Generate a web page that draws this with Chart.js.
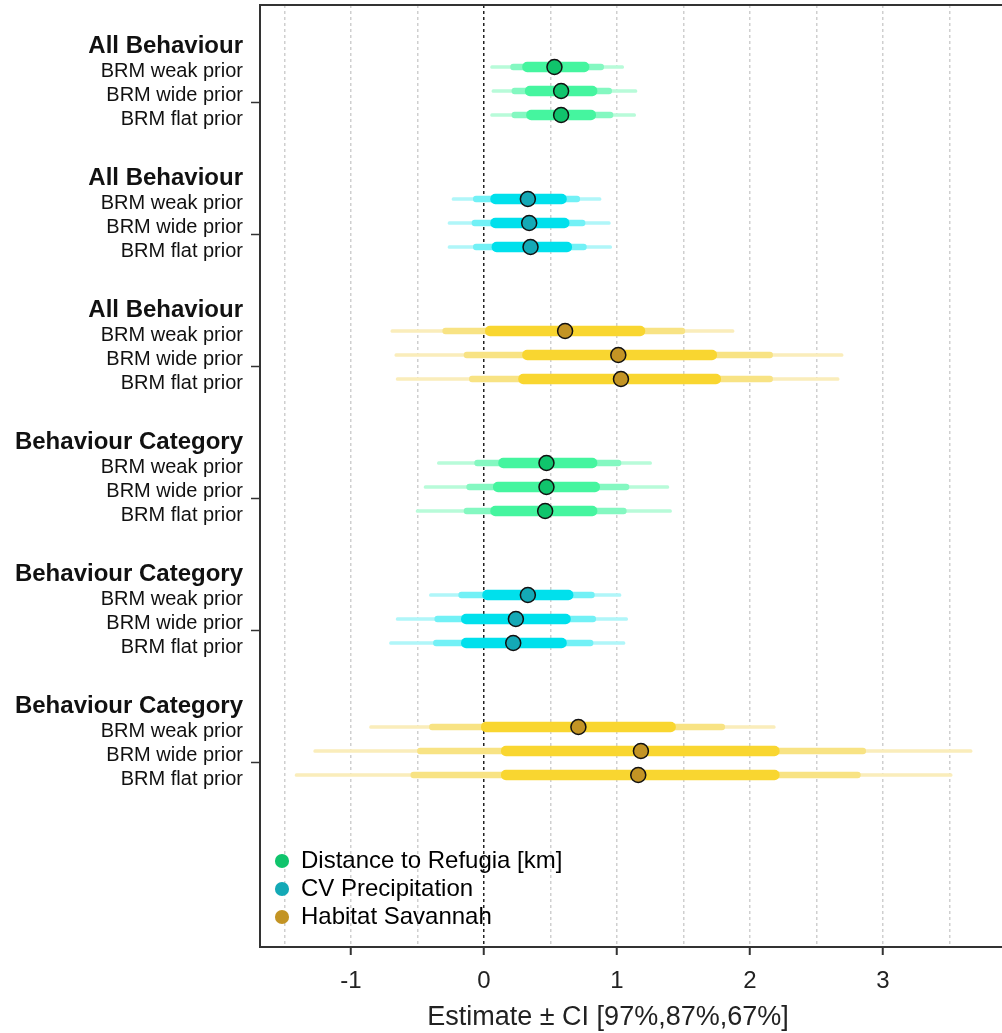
<!DOCTYPE html>
<html>
<head>
<meta charset="utf-8">
<script src="https://cdn.jsdelivr.net/npm/chart.js@4.4.1/dist/chart.umd.min.js"></script>
<style>
  html, body { margin: 0; padding: 0; background: #fff; }
  #wrap { width: 1002px; height: 1033px; }
</style>
</head>
<body>
<div id="wrap"><canvas id="forest" width="1002" height="1033"></canvas></div>
<script>
// groups (top to bottom) and the three prior rows inside each group
const GROUP_TITLES = ["All Behaviour", "All Behaviour", "All Behaviour",
  "Behaviour Category", "Behaviour Category", "Behaviour Category"];
const GROUP_PREDICTOR = [0, 1, 2, 0, 1, 2];
const PRIOR_LABELS = ["BRM weak prior", "BRM wide prior", "BRM flat prior"];
const PREDICTORS = ["Distance to Refugia [km]", "CV Precipitation", "Habitat Savannah"];
const X_TITLE = "Estimate ± CI [97%,87%,67%]";

// one value per row, group by group (weak, wide, flat)
const ESTIMATE = [0.53, 0.58, 0.58, 0.33, 0.34, 0.35, 0.61, 1.01, 1.03,
  0.47, 0.47, 0.46, 0.33, 0.24, 0.22, 0.71, 1.18, 1.16];
const LO_97 = [0.05, 0.06, 0.05, -0.24, -0.27, -0.27, -0.70, -0.67, -0.66,
  -0.35, -0.45, -0.51, -0.41, -0.66, -0.71, -0.86, -1.28, -1.42];
const HI_97 = [1.05, 1.15, 1.14, 0.88, 0.95, 0.96, 1.88, 2.70, 2.67,
  1.26, 1.39, 1.41, 1.03, 1.08, 1.06, 2.19, 3.67, 3.52];
const LO_87 = [0.20, 0.21, 0.21, -0.08, -0.09, -0.08, -0.31, -0.15, -0.11,
  -0.07, -0.13, -0.15, -0.19, -0.37, -0.38, -0.41, -0.50, -0.55];
const HI_87 = [0.90, 0.96, 0.97, 0.72, 0.76, 0.77, 1.51, 2.17, 2.17,
  1.03, 1.09, 1.07, 0.83, 0.84, 0.82, 1.81, 2.87, 2.83];
const LO_67 = [0.29, 0.31, 0.32, 0.05, 0.05, 0.06, 0.01, 0.29, 0.26,
  0.11, 0.07, 0.05, -0.01, -0.17, -0.17, -0.02, 0.13, 0.13];
const HI_67 = [0.79, 0.85, 0.84, 0.62, 0.64, 0.66, 1.21, 1.75, 1.78,
  0.85, 0.87, 0.85, 0.67, 0.65, 0.62, 1.44, 2.22, 2.22];

const X_TICKS = [-1.5, -1, -0.5, 0, 0.5, 1, 1.5, 2, 2.5, 3, 3.5];

// colours per predictor
const POINT_COLORS = ["#10c46c", "#14a9b6", "#c39424"];
const BAND67 = ["#45f59f", "#00e0ec", "#f9d630"];
const BAND87 = ["#84f8c1", "#72f1f6", "#f8e384"];
const BAND97 = ["#b8fbd9", "#b0f6f9", "#faedbb"];

const FONT = "'Liberation Sans', Arial, sans-serif";

// row i sits in group floor(i/3); groups are 5.5 rows apart
const rowY = (i) => Math.floor(i / 3) * 5.5 + 1 + (i % 3);
const colorOf = (pal) => ESTIMATE.map((_, i) => pal[GROUP_PREDICTOR[Math.floor(i / 3)]]);
const band = (lo, hi) => lo.map((l, i) => ({ x: [l, hi[i]], y: rowY(i) }));

// y ticks: headings, prior labels, and the small axis marks
const marks = GROUP_TITLES.map((_, g) => ({ value: g * 5.5 + 2.5, label: "", mark: true }));
const labels = [];
GROUP_TITLES.forEach((t, g) => {
  labels.push({ value: g * 5.5 + 0.13, label: t, bold: true });
  PRIOR_LABELS.forEach((p, r) => labels.push({ value: g * 5.5 + 1.2 + r, label: p }));
});
const Y_TICKS = [marks[0], ...labels, ...marks.slice(1)];

const noPad = (s) => {
  s.paddingTop = 0; s.paddingBottom = 0; s.paddingLeft = 0; s.paddingRight = 0;
};

const frame = {
  id: "frame",
  afterLayout(chart) {
    // park the legend in the lower left corner of the plot
    const lg = chart.legend;
    if (!lg) return;
    lg.left = chart.chartArea.left + 11;
    lg.top = chart.chartArea.top;
    lg.bottom = chart.chartArea.bottom - 14;
  },
  afterDraw(chart) {
    const { ctx, chartArea } = chart;
    ctx.save();
    ctx.strokeStyle = "#333";
    ctx.lineWidth = 2;
    ctx.beginPath();
    ctx.moveTo(chartArea.left - 1, chartArea.top);
    ctx.lineTo(chart.width, chartArea.top);
    ctx.stroke();
    // axis title, centred like the original
    ctx.fillStyle = "#222";
    ctx.font = "27px " + FONT;
    ctx.textAlign = "center";
    ctx.textBaseline = "middle";
    ctx.fillText(X_TITLE, 608, 1018);
    ctx.restore();
  }
};

const barBase = { type: "bar", indexAxis: "y", grouped: false, borderSkipped: false };

new Chart(document.getElementById("forest"), {
  data: {
    datasets: [
      {
        type: "scatter",
        label: "Estimate",
        data: ESTIMATE.map((v, i) => ({ x: v, y: rowY(i) })),
        pointRadius: 7.5,
        pointBackgroundColor: colorOf(POINT_COLORS),
        pointBorderColor: "#111",
        pointBorderWidth: 1.5
      },
      { ...barBase, label: "67%", data: band(LO_67, HI_67), backgroundColor: colorOf(BAND67), barThickness: 10, borderRadius: 5 },
      { ...barBase, label: "87%", data: band(LO_87, HI_87), backgroundColor: colorOf(BAND87), barThickness: 6, borderRadius: 3 },
      { ...barBase, label: "97%", data: band(LO_97, HI_97), backgroundColor: colorOf(BAND97), barThickness: 3, borderRadius: 1.5 }
    ]
  },
  options: {
    responsive: false,
    animation: false,
    events: [],
    layout: { autoPadding: false, padding: { top: 5, left: 0, right: 0, bottom: 0 } },
    scales: {
      x: {
        type: "linear",
        min: -1.684,
        max: 3.895,
        offset: false,
        afterBuildTicks: (s) => { s.ticks = X_TICKS.map((v) => ({ value: v })); },
        afterFit: (s) => { s.height = 86; noPad(s); },
        grid: {
          offset: false,
          color: (c) => (c.tick && c.tick.value === 0 ? "#222" : "#cfcfcf"),
          lineWidth: 1.5,
          tickLength: 8,
          tickWidth: 2,
          tickColor: (c) => (c.tick && Number.isInteger(c.tick.value) ? "#333" : "rgba(0,0,0,0)")
        },
        border: { color: "#333", width: 2, dash: (c) => (c.tick ? [3, 3] : []) },
        ticks: {
          autoSkip: false,
          maxRotation: 0,
          padding: 12,
          color: "#222",
          font: { family: FONT, size: 24 },
          callback: (v) => (Number.isInteger(v) ? String(v) : "")
        }
      },
      y: {
        type: "linear",
        reverse: true,
        min: -1.583,
        max: 37.667,
        offset: false,
        afterBuildTicks: (s) => { s.ticks = Y_TICKS.map((t) => ({ value: t.value })); },
        afterFit: (s) => { s.width = 260; noPad(s); },
        grid: {
          offset: false,
          drawOnChartArea: false,
          tickLength: 9,
          tickWidth: 1.5,
          tickColor: (c) => (Y_TICKS[c.index] && Y_TICKS[c.index].mark ? "#333" : "rgba(0,0,0,0)")
        },
        border: { color: "#333", width: 2 },
        ticks: {
          autoSkip: false,
          padding: 8,
          color: "#111",
          font: (c) => {
            const t = Y_TICKS[c.index];
            if (t && t.mark) return { family: FONT, size: 2 };
            return t && t.bold ? { family: FONT, size: 24, weight: "bold" } : { family: FONT, size: 20 };
          },
          callback: (v, i) => (Y_TICKS[i] ? Y_TICKS[i].label : "")
        }
      }
    },
    plugins: {
      tooltip: { enabled: false },
      legend: {
        position: "chartArea",
        align: "end",
        labels: {
          usePointStyle: true,
          pointStyle: "circle",
          boxWidth: 14,
          boxHeight: 10,
          padding: 4,
          color: "#222",
          font: { family: FONT, size: 24 },
          generateLabels: () => PREDICTORS.map((t, i) => ({
            text: t,
            fillStyle: POINT_COLORS[i],
            strokeStyle: POINT_COLORS[i],
            lineWidth: 0,
            pointStyle: "circle",
            hidden: false,
            datasetIndex: 0
          }))
        }
      }
    }
  },
  plugins: [frame]
});
</script>
</body>
</html>
